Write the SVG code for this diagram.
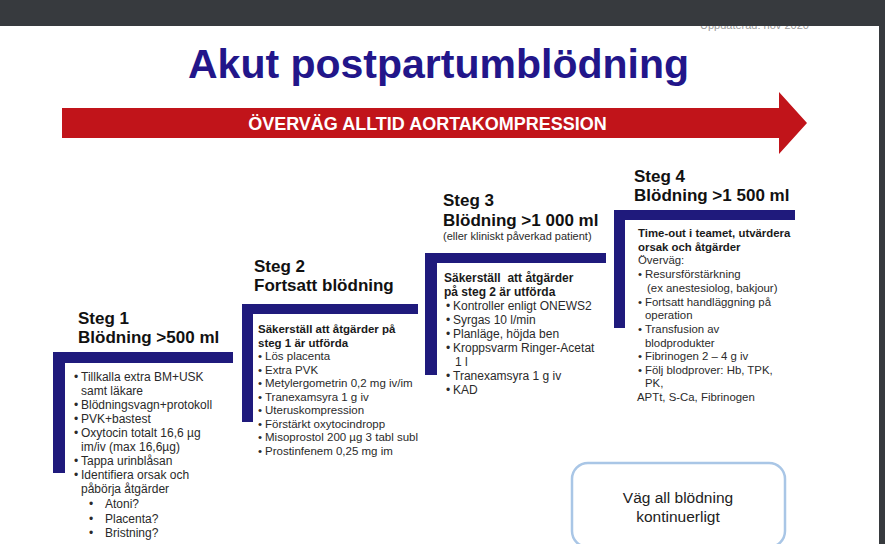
<svg xmlns="http://www.w3.org/2000/svg" width="885" height="544" viewBox="0 0 885 544">
<style>
  text { font-family: "Liberation Sans", Arial, sans-serif; }
  .bar { fill: #1f1a7c; }
  .hd { font-size: 17px; font-weight: bold; fill: #111; }
  .b { font-weight: bold; fill: #1a1a1a; }
  .t { fill: #2a2a2a; }
  .s1 { font-size: 12px; }
  .s2 { font-size: 11.5px; }
  .s3 { font-size: 12px; }
  .s4 { font-size: 11.4px; }
</style>
<rect x="0" y="0" width="885" height="544" fill="#ffffff"/>
<text x="700" y="29" font-size="11" fill="#9a9a9a">Uppdaterad: nov 2020</text>
<rect x="0" y="0" width="885" height="26" fill="#373a3e"/>
<rect x="879" y="0" width="6" height="544" fill="#373a3e"/>

<g id="title">
  <text x="438.5" y="78" text-anchor="middle" font-size="41" font-weight="bold" fill="#22168a">Akut postpartumblödning</text>
</g>

<g id="arrow">
  <polygon points="62,108 779,108 779,92 807,123 779,154 779,138 62,138" fill="#c1141a"/>
  <text x="427.5" y="130" text-anchor="middle" font-size="18" font-weight="bold" fill="#ffffff">ÖVERVÄG ALLTID AORTAKOMPRESSION</text>
</g>

<g id="steg1">
  <rect class="bar" x="53" y="352" width="180" height="11"/>
  <rect class="bar" x="53" y="352" width="12" height="121"/>
  <text class="hd" x="78" y="324">Steg 1</text>
  <text class="hd" x="78" y="343">Blödning &gt;500 ml</text>
  <g class="t s1">
    <text x="74" y="381">•</text><text x="81" y="381">Tillkalla extra BM+USK</text>
    <text x="81" y="395">samt läkare</text>
    <text x="74" y="409">•</text><text x="81" y="409">Blödningsvagn+protokoll</text>
    <text x="74" y="423">•</text><text x="81" y="423">PVK+bastest</text>
    <text x="74" y="437">•</text><text x="81" y="437">Oxytocin totalt 16,6 µg</text>
    <text x="81" y="451">im/iv (max 16,6µg)</text>
    <text x="74" y="465">•</text><text x="81" y="465">Tappa urinblåsan</text>
    <text x="74" y="479">•</text><text x="81" y="479">Identifiera orsak och</text>
    <text x="81" y="493">påbörja åtgärder</text>
    <text x="89" y="508">•</text><text x="105" y="508">Atoni?</text>
    <text x="89" y="523">•</text><text x="105" y="523">Placenta?</text>
    <text x="89" y="537">•</text><text x="105" y="537">Bristning?</text>
  </g>
</g>

<g id="steg2">
  <rect class="bar" x="242" y="304" width="176" height="10"/>
  <rect class="bar" x="242" y="304" width="11" height="118"/>
  <text class="hd" x="254" y="272">Steg 2</text>
  <text class="hd" x="254" y="291">Fortsatt blödning</text>
  <text class="b s2" x="258" y="333">Säkerställ att åtgärder på</text>
  <text class="b s2" x="258" y="346.5">steg 1 är utförda</text>
  <g class="t s2">
    <text x="258" y="360">•</text><text x="265" y="360">Lös placenta</text>
    <text x="258" y="373.5">•</text><text x="265" y="373.5">Extra PVK</text>
    <text x="258" y="387">•</text><text x="265" y="387">Metylergometrin 0,2 mg iv/im</text>
    <text x="258" y="400.5">•</text><text x="265" y="400.5">Tranexamsyra 1 g iv</text>
    <text x="258" y="414">•</text><text x="265" y="414">Uteruskompression</text>
    <text x="258" y="427.5">•</text><text x="265" y="427.5">Förstärkt oxytocindropp</text>
    <text x="258" y="441">•</text><text x="265" y="441">Misoprostol 200 µg 3 tabl subl</text>
    <text x="258" y="454.5">•</text><text x="265" y="454.5">Prostinfenem 0,25 mg im</text>
  </g>
</g>

<g id="steg3">
  <rect class="bar" x="425" y="253" width="181" height="10"/>
  <rect class="bar" x="425" y="253" width="12" height="122"/>
  <text class="hd" x="443" y="206">Steg 3</text>
  <text class="hd" x="443" y="226">Blödning &gt;1 000 ml</text>
  <text class="t" x="443" y="240" font-size="11">(eller kliniskt påverkad patient)</text>
  <text class="b s3" x="444" y="282" xml:space="preserve">Säkerställ  att åtgärder</text>
  <text class="b s3" x="444" y="296">på steg 2 är utförda</text>
  <g class="t s3">
    <text x="446" y="310">•</text><text x="453" y="310">Kontroller enligt ONEWS2</text>
    <text x="446" y="324">•</text><text x="453" y="324">Syrgas 10 l/min</text>
    <text x="446" y="338">•</text><text x="453" y="338">Planläge, höjda ben</text>
    <text x="446" y="352">•</text><text x="453" y="352">Kroppsvarm Ringer-Acetat</text>
    <text x="455" y="366">1 l</text>
    <text x="446" y="380">•</text><text x="453" y="380">Tranexamsyra 1 g iv</text>
    <text x="446" y="394">•</text><text x="453" y="394">KAD</text>
  </g>
</g>

<g id="steg4">
  <rect class="bar" x="614" y="210" width="181" height="10"/>
  <rect class="bar" x="614" y="210" width="11" height="118"/>
  <text class="hd" x="634" y="182">Steg 4</text>
  <text class="hd" x="634" y="201">Blödning &gt;1 500 ml</text>
  <text class="b s4" x="638" y="237">Time-out i teamet, utvärdera</text>
  <text class="b s4" x="638" y="251">orsak och åtgärder</text>
  <g class="t s4">
    <text x="638" y="264">Överväg:</text>
    <text x="638" y="278">•</text><text x="645" y="278">Resursförstärkning</text>
    <text x="647" y="292">(ex anestesiolog, bakjour)</text>
    <text x="638" y="306">•</text><text x="645" y="306">Fortsatt handläggning på</text>
    <text x="645" y="319">operation</text>
    <text x="638" y="333">•</text><text x="645" y="333">Transfusion av</text>
    <text x="645" y="347">blodprodukter</text>
    <text x="638" y="360">•</text><text x="645" y="360">Fibrinogen 2 – 4 g iv</text>
    <text x="638" y="374">•</text><text x="645" y="374">Följ blodprover: Hb, TPK,</text>
    <text x="645" y="387">PK,</text>
    <text x="637" y="401">APTt, S-Ca, Fibrinogen</text>
  </g>
</g>

<g id="vag">
  <rect x="572" y="463" width="213" height="84" rx="16" ry="16" fill="#ffffff" stroke="#a9c6e6" stroke-width="2.5"/>
  <text x="678" y="503" text-anchor="middle" font-size="15.5" fill="#222">Väg all blödning</text>
  <text x="678" y="522" text-anchor="middle" font-size="15.5" fill="#222">kontinuerligt</text>
</g>

<g id="connectors"></g>
</svg>
